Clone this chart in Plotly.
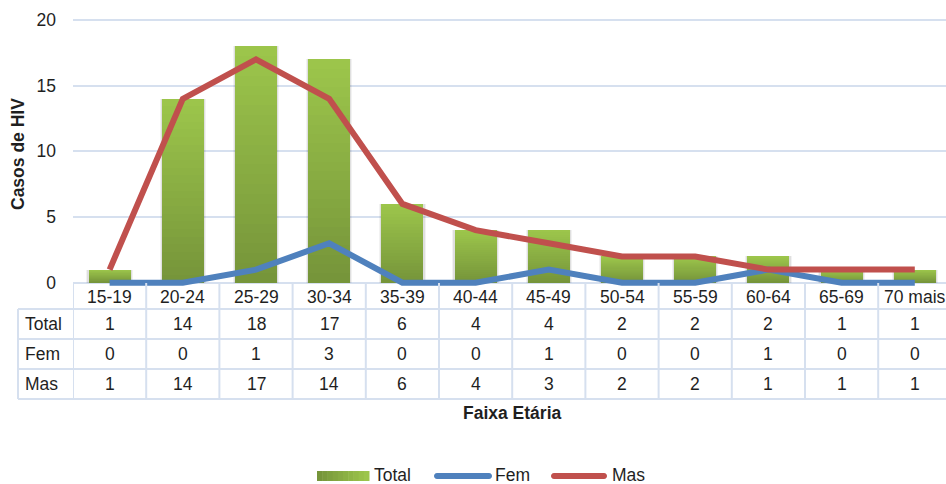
import plotly.graph_objects as go

# Age groups and HIV case counts
faixas = ["15-19", "20-24", "25-29", "30-34", "35-39", "40-44",
          "45-49", "50-54", "55-59", "60-64", "65-69", "70 mais"]
total = [1, 14, 18, 17, 6, 4, 4, 2, 2, 2, 1, 1]
fem = [0, 0, 1, 3, 0, 0, 1, 0, 0, 1, 0, 0]
mas = [1, 14, 17, 14, 6, 4, 3, 2, 2, 1, 1, 1]
row_names = ["Total", "Fem", "Mas"]
y_ticks = [0, 5, 10, 15, 20]

W, H = 946, 484
L, R_EDGE, T, B_EDGE = 73, 946, 16, 286
FONT = "Arial, Liberation Sans, sans-serif"
TXT = "#1f1f1f"
GRID = "#d6e0ef"
GREEN_TOP = (0x9c, 0xc5, 0x4b)
GREEN_BOT = (0x76, 0x95, 0x3a)
BLUE = "#4f81bd"
RED = "#c0504d"
BAR_W = 0.575
LINE_W = 6


def fx(px):
    return (px - L) / (R_EDGE - L)


def fy(py):
    return (B_EDGE - py) / (B_EDGE - T)


def mix(a, b, t):
    return "rgb(%d,%d,%d)" % tuple(round(a[i] + (b[i] - a[i]) * t) for i in range(3))


fig = go.Figure()

# soft shadow behind the bars
for w, a in [(BAR_W + 0.06, 0.05), (BAR_W + 0.03, 0.08)]:
    fig.add_trace(go.Bar(x=faixas, y=total, width=w, marker=dict(color="rgba(0,0,0,%g)" % a, line_width=0),
                         showlegend=False, hoverinfo="skip"))

# bars with vertical gradient: light at the top, darker towards the base
N = 24
for k in range(N):
    frac = 1 - k / N
    fig.add_trace(go.Bar(
        x=faixas, y=[v * frac for v in total], width=BAR_W,
        marker=dict(color=mix(GREEN_TOP, GREEN_BOT, k / (N - 1)), line_width=0),
        name="Total", showlegend=False,
        hoverinfo="skip" if k else "x+y",
        customdata=total, hovertemplate="%{customdata}<extra>Total</extra>" if k == 0 else None,
    ))

fig.add_trace(go.Scatter(x=faixas, y=fem, mode="lines", name="Fem",
                         line=dict(color=BLUE, width=LINE_W), showlegend=False))
fig.add_trace(go.Scatter(x=faixas, y=mas, mode="lines", name="Mas",
                         line=dict(color=RED, width=LINE_W), showlegend=False))

n = len(faixas)
cat_w = 73.2
x_max = -0.5 + (R_EDGE - L) / cat_w

shapes = []
ann = []

# data table under the axis
row_y = [324, 354, 384]
h_lines = [309, 339, 369, 399]
for py in h_lines:
    shapes.append(dict(type="line", xref="paper", yref="paper", x0=fx(18), x1=1.0,
                       y0=fy(py), y1=fy(py), line=dict(color=GRID, width=2)))
for k in range(n + 1):
    shapes.append(dict(type="line", xref="x", yref="paper", x0=k - 0.5, x1=k - 0.5,
                       y0=fy(283), y1=fy(399), line=dict(color=GRID, width=2)))
shapes.append(dict(type="line", xref="paper", yref="paper", x0=fx(18), x1=fx(18),
                   y0=fy(309), y1=fy(399), line=dict(color=GRID, width=2)))

for i, c in enumerate(faixas):
    ann.append(dict(x=c, y=fy(297), xref="x", yref="paper", text=c, showarrow=False,
                    xanchor="center", yanchor="middle", font=dict(size=17.5, color=TXT, family=FONT)))
for name, vals, py in zip(row_names, [total, fem, mas], row_y):
    ann.append(dict(x=fx(23), y=fy(py), xref="paper", yref="paper", text=name, showarrow=False,
                    xanchor="left", yanchor="middle", font=dict(size=17.5, color=TXT, family=FONT)))
    for c, v in zip(faixas, vals):
        ann.append(dict(x=c, y=fy(py), xref="x", yref="paper", text=str(v), showarrow=False,
                        xanchor="center", yanchor="middle", font=dict(size=17.5, color=TXT, family=FONT)))

# axis titles
ann.append(dict(x=fx(512), y=fy(413), xref="paper", yref="paper", text="<b>Faixa Etária</b>",
                showarrow=False, xanchor="center", yanchor="middle",
                font=dict(size=17.5, color=TXT, family=FONT)))
ann.append(dict(x=fx(18), y=fy(154), xref="paper", yref="paper", text="<b>Casos de HIV</b>",
                showarrow=False, textangle=-90, xanchor="center", yanchor="middle",
                font=dict(size=17.5, color=TXT, family=FONT)))

# legend
ly = 476
sw_x0, sw_x1 = 317, 369
steps = 10
for s in range(steps):
    a0 = sw_x0 + (sw_x1 - sw_x0) * s / steps
    a1 = sw_x0 + (sw_x1 - sw_x0) * (s + 1) / steps
    shapes.append(dict(type="rect", xref="paper", yref="paper", x0=fx(a0), x1=fx(a1 + 0.5),
                       y0=fy(481), y1=fy(471), line_width=0,
                       fillcolor=mix(GREEN_BOT, GREEN_TOP, s / (steps - 1))))


def capsule(x1, x2, yc, r):
    k = 1.33 * r
    p = "M%f,%f L%f,%f " % (fx(x1), fy(yc - r), fx(x2), fy(yc - r))
    p += "C%f,%f %f,%f %f,%f " % (fx(x2 + k), fy(yc - r), fx(x2 + k), fy(yc + r), fx(x2), fy(yc + r))
    p += "L%f,%f " % (fx(x1), fy(yc + r))
    p += "C%f,%f %f,%f %f,%f Z" % (fx(x1 - k), fy(yc + r), fx(x1 - k), fy(yc - r), fx(x1), fy(yc - r))
    return p


for (x1, x2, col) in [(437, 489, BLUE), (554, 604, RED)]:
    shapes.append(dict(type="path", xref="paper", yref="paper", path=capsule(x1, x2, ly, 3),
                       fillcolor=col, line_width=0))
for txt, px in [("Total", 373), ("Fem", 494), ("Mas", 611)]:
    ann.append(dict(x=fx(px), y=fy(ly - 1.5), xref="paper", yref="paper", text=txt, showarrow=False,
                    xanchor="left", yanchor="middle", borderpad=0,
                    font=dict(size=17.5, color=TXT, family=FONT)))

fig.update_layout(
    width=W, height=H,
    margin=dict(l=L, r=W - R_EDGE, t=T, b=H - B_EDGE, pad=0),
    paper_bgcolor="white", plot_bgcolor="white",
    barmode="overlay", bargap=0,
    showlegend=False,
    font=dict(family=FONT, size=17.5, color=TXT),
    xaxis=dict(type="category", range=[-0.5, x_max], showticklabels=False, showgrid=False,
               zeroline=False, showline=False, ticks=""),
    yaxis=dict(range=[-0.25, 20.3], tickvals=y_ticks, showgrid=True, gridcolor=GRID, gridwidth=1.6,
               zeroline=False, showline=False, ticks="", ticklabelstandoff=16,
               tickfont=dict(size=17.5, color=TXT, family=FONT)),
    shapes=shapes, annotations=ann,
)

fig.write_html("out.html")
